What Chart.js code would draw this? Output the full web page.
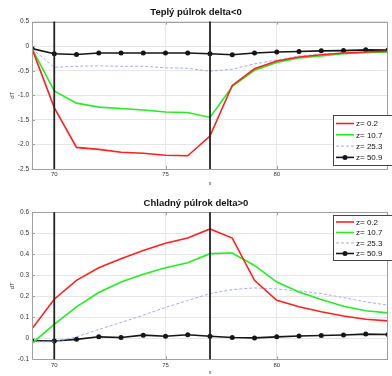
<!DOCTYPE html>
<html><head><meta charset="utf-8">
<script src="https://cdn.jsdelivr.net/npm/chart.js@4"></script>
<style>html,body{margin:0;padding:0;background:#fff;overflow:hidden;width:392px;height:376px}
canvas{position:absolute;left:0}</style></head>
<body>
<canvas id="c1" width="392" height="190" style="top:0px"></canvas>
<canvas id="c2" width="392" height="186" style="top:190px"></canvas>
<script>
// ---- data ----
const xValues = [69,70,71,72,73,74,75,76,77,78,79,80,81,82,83,84,85];
const seriesLabels = ['z= 0.2','z= 10.7','z= 25.3','z= 50.9'];

const warmZ02  = [-0.05,-1.25,-2.06,-2.10,-2.16,-2.18,-2.22,-2.23,-1.83,-0.80,-0.46,-0.30,-0.22,-0.175,-0.14,-0.12,-0.10];
const warmZ107 = [-0.05,-0.91,-1.16,-1.24,-1.27,-1.30,-1.34,-1.35,-1.45,-0.82,-0.49,-0.33,-0.24,-0.20,-0.155,-0.135,-0.12];
const warmZ253 = [-0.05,-0.43,-0.41,-0.40,-0.41,-0.41,-0.44,-0.45,-0.51,-0.47,-0.36,-0.28,-0.20,-0.16,-0.14,-0.12,-0.11];
const warmZ509 = [-0.05,-0.155,-0.17,-0.14,-0.14,-0.14,-0.14,-0.14,-0.155,-0.175,-0.14,-0.12,-0.11,-0.095,-0.09,-0.075,-0.08];

const coldZ02  = [0.045,0.186,0.276,0.336,0.379,0.418,0.453,0.478,0.521,0.477,0.276,0.181,0.150,0.126,0.106,0.091,0.083];
const coldZ107 = [-0.024,0.066,0.150,0.218,0.268,0.305,0.336,0.360,0.403,0.406,0.347,0.268,0.221,0.185,0.153,0.131,0.121];
const coldZ253 = [-0.017,-0.017,0.007,0.042,0.075,0.110,0.147,0.180,0.213,0.232,0.240,0.235,0.225,0.213,0.194,0.173,0.158];
const coldZ509 = [-0.012,-0.013,-0.005,0.007,0.004,0.015,0.010,0.017,0.010,0.004,0.002,0.007,0.011,0.013,0.016,0.020,0.018];

const warmYTicks = [0.5,0,-0.5,-1,-1.5,-2,-2.5];
const coldYTicks = [0.6,0.5,0.4,0.3,0.2,0.1,0,-0.1];
const xTicks = [70,75,80];
const markerLines = [70,77];
const warmTitle = 'Teplý púlrok delta<0';
const coldTitle = 'Chladný púlrok delta>0';

// ---- styles ----
const FONT = "'Liberation Sans', Arial, sans-serif";
const styles = [
  {borderColor:'#ff2020', borderWidth:1.6, pointRadius:0, borderDash:[]},
  {borderColor:'#22ee22', borderWidth:1.6, pointRadius:0, borderDash:[]},
  {borderColor:'#a8a8ff', borderWidth:1, pointRadius:0, borderDash:[3,2]},
  {borderColor:'#151515', borderWidth:1.6, pointRadius:2.5, pointBorderWidth:0, pointBackgroundColor:'#151515', pointBorderColor:'#151515', borderDash:[]}
];

function mkData(arr){ return xValues.map((x,i)=>({x:x, y:arr[i]})); }

const boxPlugin = {
  id:'boxPlugin',
  afterDatasetsDraw(chart, args, opts){
    const ctx = chart.ctx, a = chart.chartArea;
    const xs = chart.scales.x, ys = chart.scales.y;
    ctx.save();
    // axes box
    ctx.strokeStyle = '#a0a0a0'; ctx.lineWidth = 1;
    ctx.strokeRect(Math.round(a.left)+0.5, Math.round(a.top)+0.5, Math.round(a.right-a.left)-1, Math.round(a.bottom-a.top));
    // inward tick marks
    ctx.beginPath();
    xTicks.forEach(v=>{
      const px = Math.round(xs.getPixelForValue(v))+0.5;
      ctx.moveTo(px,a.bottom); ctx.lineTo(px,a.bottom-3);
      ctx.moveTo(px,a.top); ctx.lineTo(px,a.top+3);
    });
    opts.yTicks.forEach(v=>{
      const py = Math.round(ys.getPixelForValue(v))+0.5;
      ctx.moveTo(a.left,py); ctx.lineTo(a.left+3,py);
    });
    ctx.stroke();
    // vertical marker lines
    ctx.strokeStyle = '#222'; ctx.lineWidth = 1.8;
    markerLines.forEach(v=>{
      const px = xs.getPixelForValue(v);
      ctx.beginPath(); ctx.moveTo(px,a.top); ctx.lineTo(px,a.bottom); ctx.stroke();
    });
    // legend
    const L = opts.legend;
    ctx.fillStyle = '#fff'; ctx.strokeStyle = '#444'; ctx.lineWidth = 1;
    ctx.fillRect(L.x, L.y, L.w, L.h);
    ctx.strokeRect(L.x+0.5, L.y+0.5, L.w, L.h);
    ctx.font = '8px ' + FONT; ctx.textBaseline = 'middle'; ctx.textAlign = 'left';
    chart.data.datasets.forEach((ds,i)=>{
      const ry = L.y + L.first + i*L.step;
      ctx.strokeStyle = ds.borderColor; ctx.lineWidth = ds.borderWidth;
      ctx.setLineDash(ds.borderDash||[]);
      ctx.beginPath(); ctx.moveTo(L.x+3, ry); ctx.lineTo(L.x+21, ry); ctx.stroke();
      ctx.setLineDash([]);
      if (ds.pointRadius>0){
        ctx.fillStyle = ds.pointBackgroundColor;
        ctx.beginPath(); ctx.arc(L.x+12, ry, ds.pointRadius, 0, Math.PI*2); ctx.fill();
      }
      ctx.fillStyle = '#111';
      ctx.fillText(ds.label, L.x+23, ry+0.5);
    });
    ctx.restore();
  }
};

function makeChart(id, series, yTicks, yMin, yMax, title, titlePad, xAxisH, xTitlePadBottom, legend){
  return new Chart(document.getElementById(id), {
    type:'line',
    data:{ datasets: series.map((arr,i)=>Object.assign({label:seriesLabels[i], data:mkData(arr), fill:false, tension:0}, styles[i])) },
    options:{
      responsive:false, animation:false, devicePixelRatio:1,
      layout:{padding:{left:0,right:0,top:0,bottom:0}},
      plugins:{
        legend:{display:false}, tooltip:{enabled:false},
        title:{display:true, text:title, color:'#111', font:{family:FONT, size:9.5, weight:'bold', lineHeight:1.2}, padding:titlePad},
        boxPlugin:{yTicks:yTicks, legend:legend}
      },
      scales:{
        x:{type:'linear', min:69, max:85,
           afterBuildTicks:s=>{ s.ticks = xTicks.map(v=>({value:v})); },
           afterFit:s=>{ s.height = xAxisH; },
           grid:{color:'#e6e6e6', drawTicks:false, lineWidth:1},
           border:{display:false},
           ticks:{color:'#333', font:{family:FONT, size:6}, padding:2, maxRotation:0},
           title:{display:true, text:'x', color:'#333', font:{family:FONT, size:5.5}, padding:{top:0,bottom:xTitlePadBottom}}
        },
        y:{type:'linear', min:yMin, max:yMax,
           afterBuildTicks:s=>{ s.ticks = yTicks.map(v=>({value:v})); },
           afterFit:s=>{ s.width = 32; },
           grid:{color:'#e6e6e6', drawTicks:false, lineWidth:1},
           border:{display:false},
           ticks:{color:'#333', font:{family:FONT, size:6.5}, padding:3},
           title:{display:true, text:'dT', color:'#333', font:{family:FONT, size:6}, padding:{top:9,bottom:0}}
        }
      }
    },
    plugins:[boxPlugin]
  });
}

makeChart('c1', [warmZ02,warmZ107,warmZ253,warmZ509], warmYTicks, -2.5, 0.5, warmTitle,
  {top:6.3,bottom:3.9}, 21, 3, {x:333, y:115, w:60, h:50, first:8.5, step:11.3});
makeChart('c2', [coldZ02,coldZ107,coldZ253,coldZ509], coldYTicks, -0.1, 0.6, coldTitle,
  {top:7.3,bottom:3.6}, 16.7, 0, {x:333, y:25, w:60, h:45, first:7, step:10.5});
</script>
</body></html>
